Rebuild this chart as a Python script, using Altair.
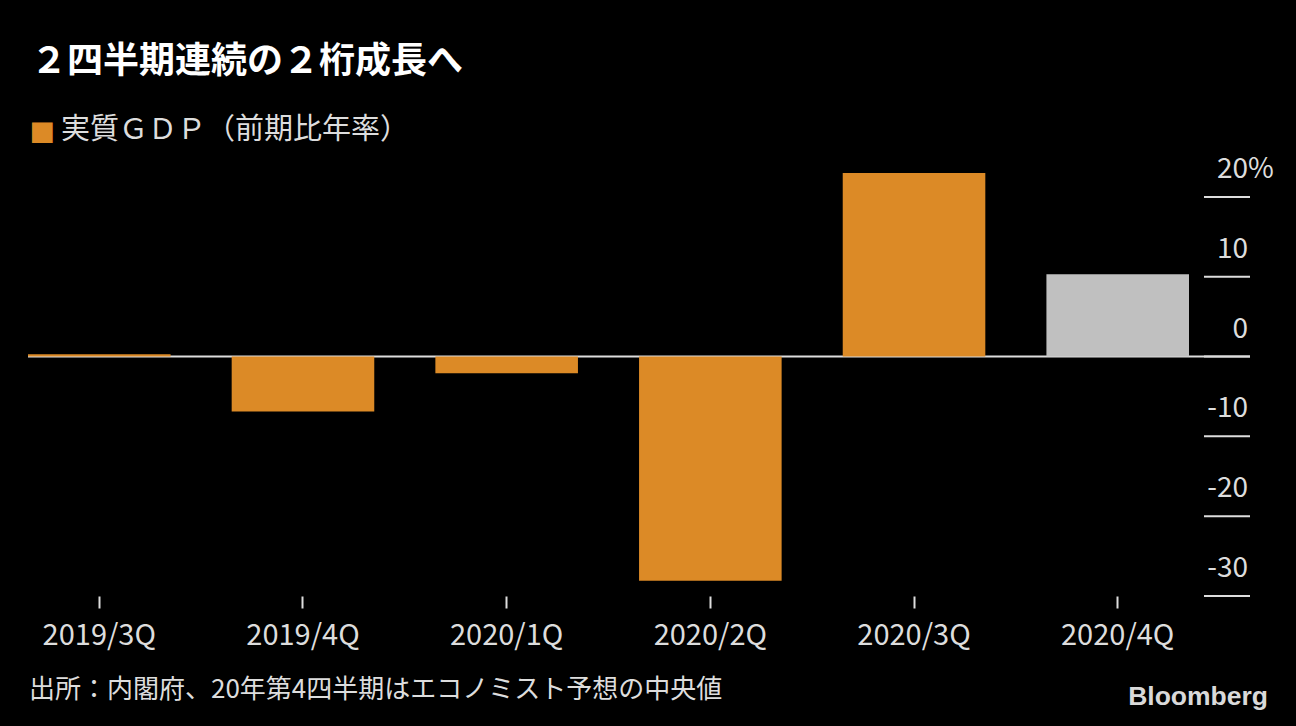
import altair as alt
import pandas as pd

quarters = ["2019/3Q", "2019/4Q", "2020/1Q", "2020/2Q", "2020/3Q", "2020/4Q"]
growth = [0.3, -6.9, -2.1, -28.1, 23.0, 10.3]
kinds = ["実績", "実績", "実績", "実績", "実績", "予想"]
y_ticks = [20, 10, 0, -10, -20, -30]
y_tick_labels = ["20", "10", "0", "-10", "-20", "-30"]

title_text = "２四半期連続の２桁成長へ"
legend_text = "実質ＧＤＰ（前期比年率）"
source_text = "出所：内閣府、20年第4四半期はエコノミスト予想の中央値"
logo_text = "Bloomberg"

FONT = "Noto Sans CJK JP"
ORANGE = "#dc8a26"
GREY = "#c0c0c0"
LIGHT = "#dddddd"
W, H = 1161, 439
AXR = 1222  # right end of zero line / tick marks (pixels from plot left)

df = pd.DataFrame({"q": quarters, "v": growth, "k": kinds})
dft = pd.DataFrame({"v": y_ticks, "lab": y_tick_labels})


def yenc():
    return alt.Y("v:Q", scale=alt.Scale(domain=[-30, 25], nice=False, zero=False), axis=None)


bars = alt.Chart(df).mark_bar().encode(
    x=alt.X("q:N", sort=quarters, scale=alt.Scale(paddingInner=0.3, paddingOuter=0),
            axis=alt.Axis(title=None, domain=False, tickSize=12, tickWidth=2, tickColor=LIGHT,
                          labelFontSize=29, labelColor=LIGHT, labelFont=FONT, labelPadding=13,
                          labelAngle=0)),
    y=yenc(),
    color=alt.Color("k:N", scale=alt.Scale(domain=["実績", "予想"], range=[ORANGE, GREY]), legend=None),
)

zero = alt.Chart(pd.DataFrame({"v": [0]})).mark_rule(color=LIGHT, strokeWidth=2).encode(
    y=yenc(), x=alt.value(0), x2=alt.value(AXR)
)

ticks = alt.Chart(dft).mark_rule(color=LIGHT, strokeWidth=2).encode(
    y=yenc(), x=alt.value(AXR - 46), x2=alt.value(AXR)
)

tick_labels = alt.Chart(dft).mark_text(
    align="right", baseline="alphabetic", dy=-19, fontSize=28, font=FONT, color=LIGHT
).encode(y=yenc(), x=alt.value(AXR - 2), text="lab:N")

pct = alt.Chart(pd.DataFrame({"v": [20], "t": ["%"]})).mark_text(
    align="left", baseline="alphabetic", dy=-19, fontSize=28, font=FONT, color=LIGHT
).encode(y=yenc(), x=alt.value(AXR - 2), text="t:N")

title = alt.Chart(pd.DataFrame({"t": [title_text]})).mark_text(
    align="left", baseline="alphabetic", fontSize=36, font=FONT, fontWeight="bold", color="#ffffff"
).encode(x=alt.value(3), y=alt.value(-84), text="t:N")

legend_box = alt.Chart(pd.DataFrame({"t": ["■"]})).mark_text(
    align="left", baseline="alphabetic", fontSize=27, font="DejaVu Sans", color=ORANGE
).encode(x=alt.value(1.5), y=alt.value(-17), text="t:N")

legend_lab = alt.Chart(pd.DataFrame({"t": [legend_text]})).mark_text(
    align="left", baseline="alphabetic", fontSize=29, font=FONT, color=LIGHT
).encode(x=alt.value(33), y=alt.value(-18), text="t:N")

source = alt.Chart(pd.DataFrame({"t": [source_text]})).mark_text(
    align="left", baseline="alphabetic", fontSize=26, font=FONT, color=LIGHT
).encode(x=alt.value(1), y=alt.value(541), text="t:N")

logo = alt.Chart(pd.DataFrame({"t": [logo_text]})).mark_text(
    align="right", baseline="alphabetic", fontSize=26.5, font="Liberation Sans", fontWeight="bold",
    color="#d9d9d9"
).encode(x=alt.value(1240), y=alt.value(548), text="t:N")

chart = alt.layer(
    zero, ticks, bars, tick_labels, pct, title, legend_box, legend_lab, source, logo
).properties(
    width=W, height=H,
    autosize=alt.AutoSizeParams(type="none"),
    padding={"left": 28, "top": 157, "right": 1296 - 28 - W, "bottom": 726 - 157 - H},
    background="#000000",
).configure_view(strokeWidth=0)

chart.save("out.html", embed_options={"renderer": "svg", "actions": False})
